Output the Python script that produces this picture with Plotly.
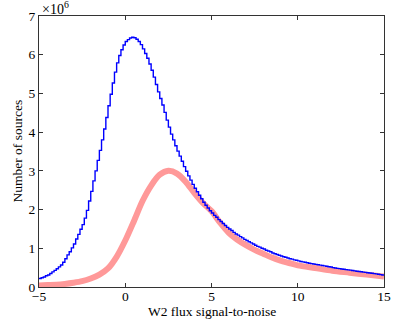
import numpy as np
import plotly.graph_objects as go

# Blue histogram: bin width 0.125 from -5 to 15 (values in millions)
bin_start = -5.0
bin_width = 0.125
blue_counts = [
    0.22, 0.24, 0.26, 0.29, 0.31, 0.35, 0.39, 0.43,
    0.47, 0.52, 0.57, 0.64, 0.73, 0.83, 0.91, 1.01,
    1.11, 1.24, 1.36, 1.49, 1.61, 1.78, 1.98, 2.22,
    2.47, 2.74, 3.00, 3.27, 3.53, 3.80, 4.08, 4.38,
    4.68, 4.98, 5.27, 5.55, 5.79, 5.98, 6.13, 6.25,
    6.34, 6.39, 6.43, 6.45, 6.44, 6.40, 6.34, 6.26,
    6.15, 6.03, 5.91, 5.76, 5.60, 5.42, 5.23, 5.04,
    4.87, 4.70, 4.51, 4.31, 4.13, 3.95, 3.80, 3.65,
    3.51, 3.38, 3.25, 3.11, 2.99, 2.87, 2.76, 2.65,
    2.55, 2.46, 2.37, 2.28, 2.19, 2.11, 2.04, 1.97,
    1.91, 1.85, 1.80, 1.74, 1.69, 1.64, 1.59, 1.54,
    1.50, 1.46, 1.41, 1.37, 1.34, 1.30, 1.27, 1.23,
    1.20, 1.17, 1.14, 1.11, 1.08, 1.05, 1.03, 1.00,
    0.98, 0.95, 0.93, 0.91, 0.88, 0.86, 0.84, 0.82,
    0.80, 0.78, 0.77, 0.75, 0.73, 0.72, 0.70, 0.69,
    0.675, 0.66, 0.65, 0.64, 0.625, 0.615, 0.605, 0.595,
    0.585, 0.575, 0.565, 0.555, 0.545, 0.535, 0.525, 0.515,
    0.50, 0.49, 0.482, 0.474, 0.466, 0.458, 0.45, 0.443,
    0.435, 0.426, 0.417, 0.408, 0.40, 0.392, 0.385, 0.377,
    0.37, 0.36, 0.355, 0.345, 0.34, 0.33, 0.32, 0.31,
]

# Pink smooth curve (values in millions)
pink_x = [-5, -4.5, -4, -3.5, -3, -2.5, -2, -1.5, -1, -0.5, 0, 0.5, 1, 1.5, 2, 2.5,
          3, 3.5, 4, 4.5, 5, 5.5, 6, 6.5, 7, 7.5, 8, 8.5, 9, 9.5, 10, 11, 12, 13, 14, 15]
pink_y = [0.04, 0.05, 0.06, 0.08, 0.11, 0.15, 0.22, 0.32, 0.48, 0.78, 1.20, 1.70, 2.22, 2.62,
          2.90, 3.00, 2.93, 2.72, 2.43, 2.17, 1.96, 1.66, 1.40, 1.22, 1.08, 0.96, 0.86, 0.76,
          0.68, 0.62, 0.56, 0.49, 0.42, 0.37, 0.32, 0.27]

x_ticks = [-5, 0, 5, 10, 15]
y_ticks = [0, 1, 2, 3, 4, 5, 6, 7]
x_title = "W2 flux signal-to-noise"
y_title = "Number of sources"

n = len(blue_counts)
edges = bin_start + bin_width * np.arange(n + 1)
blue_y = np.array(blue_counts + [blue_counts[-1]]) * 1e6

fig = go.Figure()
fig.add_trace(go.Scatter(
    x=np.array(pink_x), y=np.array(pink_y) * 1e6, mode="lines",
    line=dict(color="rgb(255,153,153)", width=6, shape="spline", smoothing=0.8),
    hoverinfo="skip", showlegend=False))
fig.add_trace(go.Scatter(
    x=edges, y=blue_y, mode="lines",
    line=dict(color="rgb(0,0,255)", width=1.4, shape="hv"),
    hoverinfo="skip", showlegend=False))

font_family = "Liberation Serif"
axis_common = dict(
    showgrid=False, zeroline=False, showline=True, mirror="ticks",
    linecolor="#333333", linewidth=1.3, ticks="inside", ticklen=4,
    tickwidth=1, tickcolor="#333333",
    tickfont=dict(family=font_family, size=13.5, color="black"),
)

fig.update_layout(
    width=399, height=319,
    margin=dict(l=39, r=8, t=16, b=32),
    paper_bgcolor="white", plot_bgcolor="white",
    font=dict(family=font_family, size=14, color="black"),
    xaxis=dict(range=[-5, 15], tickvals=x_ticks,
               ticktext=[str(v).replace("-", "\u2212") for v in x_ticks],
               ticklabeloverflow="allow", ticklabelstandoff=-3, **axis_common),
    yaxis=dict(range=[0, 7e6], tickvals=[v * 1e6 for v in y_ticks],
               ticktext=[str(v) for v in y_ticks], **axis_common),
    annotations=[
        dict(text="\u00d710<sup>6</sup>", xref="paper", yref="paper", x=0, y=1,
             xanchor="left", yanchor="bottom", showarrow=False, xshift=1, yshift=-3,
             font=dict(family=font_family, size=14)),
        dict(text=x_title, xref="paper", yref="paper", x=0.5, y=0,
             xanchor="center", yanchor="middle", showarrow=False, yshift=-24,
             font=dict(family=font_family, size=13.5)),
        dict(text=y_title, xref="paper", yref="paper", x=0, y=0.5, textangle=-90,
             xanchor="center", yanchor="middle", showarrow=False, xshift=-22,
             font=dict(family=font_family, size=13.5)),
    ],
)

fig.write_html("out.html", config={"displayModeBar": False},
               post_script="document.body.style.margin='0';")
